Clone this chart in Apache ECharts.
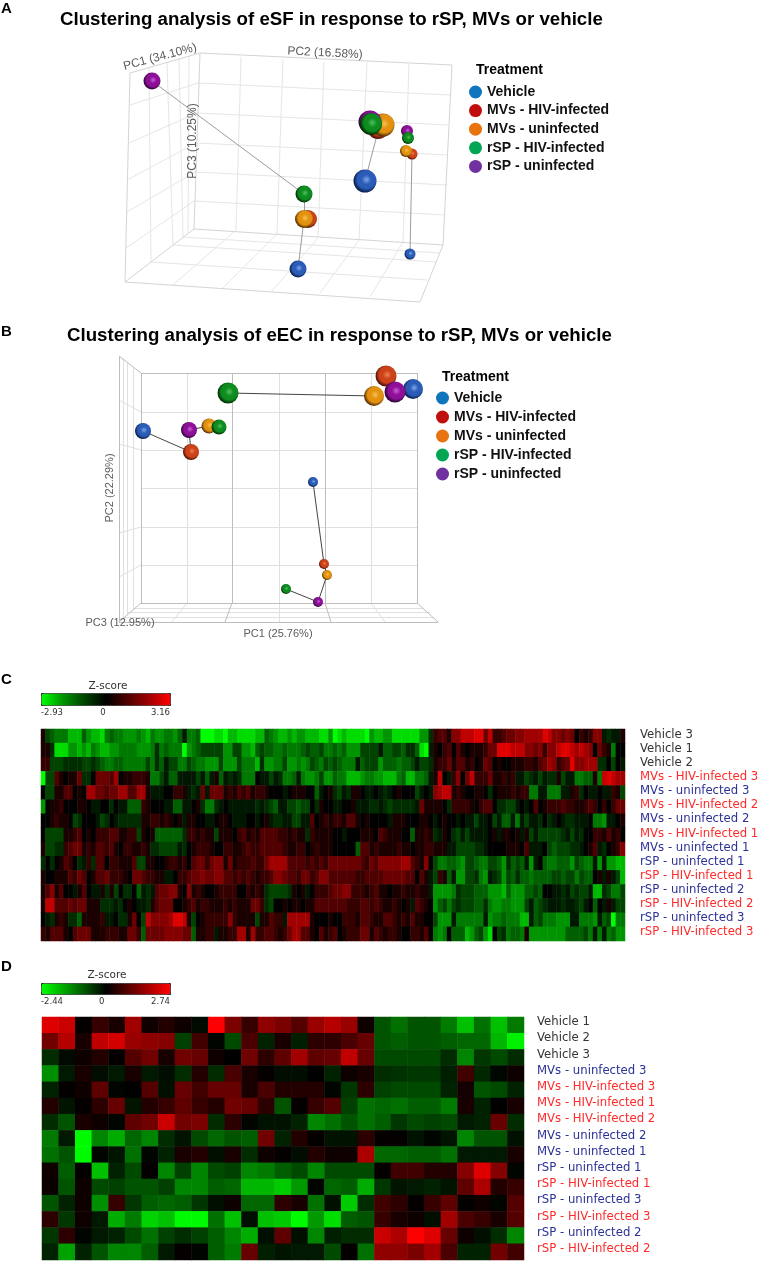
<!DOCTYPE html>
<html>
<head>
<meta charset="utf-8">
<title>Clustering analysis</title>
<script src="https://cdn.jsdelivr.net/npm/echarts@6/dist/echarts.min.js"></script>
<style>
  html, body { margin: 0; padding: 0; background: #fff; }
  #chart { width: 760px; height: 1261px; }
</style>
</head>
<body>
<div id="chart"></div>
<script>
const treatments = ['Vehicle', 'MVs - HIV-infected', 'MVs - uninfected', 'rSP - HIV-infected', 'rSP - uninfected']
const legendColors = ['#0f75bd', '#c00d0d', '#e8730f', '#00a651', '#7030a0']

// PCA points: [x, y, diameter]
const vehicleA = [[298, 269, 17], [365, 181, 23], [410, 254, 11]]
const mvsHivA = [[308, 219, 18], [378, 128, 22], [412, 154, 11]]
const mvsUninfA = [[304, 219, 18], [383, 125, 23], [406, 151, 12]]
const rspUninfA = [[152, 81, 17], [370, 122, 23], [407, 131, 12]]
const rspHivA = [[304, 194, 17], [371, 124, 22], [408, 138, 12]]
const linksA = [[152, 81, 304, 194], [304, 194, 304, 219], [304, 219, 298, 269], [365, 181, 377, 135], [412, 154, 410, 254]]
const wireA = [
  [241, 57, 236, 231], [283, 59, 277, 234], [324, 62, 318, 237], [367, 62, 359, 240], [409, 64, 403, 242],
  [198, 83, 450, 95], [197, 113, 448, 125], [196, 143, 447, 155], [195, 172, 447, 185], [194, 201, 445, 215],
  [149, 68, 151, 262], [167, 63, 173, 245], [179, 59, 183, 237], [189, 56, 188, 233],
  [130, 105, 198, 83], [129, 143, 197, 113], [127, 180, 196, 143], [127, 212, 195, 172], [126, 248, 194, 201],
  [151, 262, 427, 280], [173, 245, 437, 262], [183, 237, 440, 253],
  [277, 234, 223, 288], [359, 240, 320, 293], [235, 231, 173, 285], [318, 238, 272, 291], [403, 242, 370, 297]
]
const wireEdgeA = [
  [200, 53, 452, 65], [452, 65, 443, 245], [443, 245, 194, 229], [194, 229, 200, 53],
  [200, 53, 130, 73], [130, 73, 125, 282], [125, 282, 194, 229],
  [125, 282, 420, 302], [420, 302, 443, 245]
]

const vehicleB = [[143, 431, 16], [413, 389, 20], [313, 482, 10]]
const mvsHivB = [[191, 452, 16], [386, 376, 21], [324, 564, 10]]
const mvsUninfB = [[209, 426, 15], [374, 396, 20], [327, 575, 10]]
const rspUninfB = [[189, 430, 16], [395, 392, 21], [318, 602, 10]]
const rspHivB = [[219, 427, 15], [228, 393, 21], [286, 589, 10]]
const linksB = [
  [228, 393, 374, 396], [143, 431, 191, 452], [191, 452, 189, 430], [189, 430, 209, 426],
  [313, 482, 324, 564], [324, 564, 327, 575], [327, 575, 318, 602], [318, 602, 286, 589]
]
const wireB = [
  [187, 373, 187, 603], [279, 373, 279, 603], [371, 373, 371, 603],
  [141, 412, 417, 412], [141, 450, 417, 450], [141, 488, 417, 488], [141, 527, 417, 527], [141, 565, 417, 565],
  [123, 358, 123, 620], [127, 362, 127, 615], [133, 367, 133, 608],
  [119, 400, 141, 412], [119, 444, 141, 450], [119, 533, 141, 527], [119, 577, 141, 565],
  [187, 603, 172, 622], [279, 603, 279, 622], [371, 603, 385, 622],
  [133, 608, 423, 608], [127, 612, 430, 612], [123, 617, 434, 617]
]
const wireEdgeB = [
  [141, 373, 417, 373], [417, 373, 417, 603], [417, 603, 141, 603], [141, 603, 141, 373],
  [119, 356, 141, 373], [119, 356, 119, 622], [119, 622, 141, 603],
  [119, 622, 438, 622], [438, 622, 417, 603],
  [232, 373, 232, 603], [325, 373, 325, 603], [232, 603, 225, 622], [325, 603, 331, 622]
]

const rowsC = [
  'Vehicle 3', 'Vehicle 1', 'Vehicle 2', 'MVs - HIV-infected 3', 'MVs - uninfected 3', 'MVs - HIV-infected 2',
  'MVs - uninfected 2', 'MVs - HIV-infected 1', 'MVs - uninfected 1', 'rSP - uninfected 1', 'rSP - HIV-infected 1',
  'rSP - uninfected 2', 'rSP - HIV-infected 2', 'rSP - uninfected 3', 'rSP - HIV-infected 3'
]
const rowsD = [
  'Vehicle 1', 'Vehicle 2', 'Vehicle 3', 'MVs - uninfected 3', 'MVs - HIV-infected 3', 'MVs - HIV-infected 1',
  'MVs - HIV-infected 2', 'MVs - uninfected 2', 'MVs - uninfected 1', 'rSP - uninfected 1', 'rSP - HIV-infected 1',
  'rSP - uninfected 3', 'rSP - HIV-infected 3', 'rSP - uninfected 2', 'rSP - HIV-infected 2'
]
const ticksC = [-2.93, 0, 3.16]
const ticksD = [-2.44, 0, 2.74]

// panel C, estimated by eye, one unit is about a third of a z-score
const levelsC = [
  [1,-3,-4,-5,-5,-5,-7,-7,-7,-4,-6,-7,-7,-8,-5,-4,-5,-5,-6,-6,-6,-5,-6,-7,-5,-6,-6,-5,-5,-6,-4,-1,
   -5,-5,-4,-9,-9,-9,-8,-8,-9,-7,-7,-8,-8,-8,-8,-7,-7,-4,-5,-6,-7,-7,-6,-7,-6,-6,-7,-7,-7,-8,-8,-6,
   -9,-8,-7,-8,-8,-8,-8,-9,-6,-7,-7,-6,-6,-8,-8,-8,-8,-8,-8,-6,-6,-2,2,3,3,1,5,5,7,7,7,8,
   8,4,7,2,2,3,4,4,5,5,6,6,6,6,8,7,5,5,4,5,4,0,2,1,2,5,5,-1,-2,-1,-1,1],
  [1,1,-2,-8,-8,-8,-6,-6,-7,-6,-7,-5,-6,-7,-7,-6,-6,-5,-5,-5,-5,-6,-6,-6,-5,-2,-5,-4,-5,-5,-5,-9,
   -6,-5,-4,-3,-3,-3,-3,-3,-6,-6,-3,-3,-6,-6,-7,-4,-3,-4,-4,-5,-5,-4,-5,-5,-5,-4,-3,-4,-4,-3,-5,-5,
   -4,-5,-4,-6,-6,-6,-3,-3,-3,-3,-1,-4,-4,-3,-3,-4,-2,-2,-4,-8,-9,-1,1,0,2,3,0,3,1,0,1,1,
   1,2,4,4,8,8,8,7,7,7,5,5,4,5,2,5,5,7,8,8,7,6,7,6,5,0,4,2,1,-5,0,0],
  [2,2,-3,-3,-3,-2,-2,-2,-2,-3,-3,-2,-3,-4,-5,-5,-4,-4,-5,-5,-5,-5,-5,-3,-5,-2,-4,-1,-3,-3,-5,-5,
   -3,-4,-5,-5,-6,-6,-6,-3,-6,-6,-6,-3,-5,-5,-5,-7,-2,-6,-6,-5,-5,-3,-6,-6,-5,-6,-5,-3,-4,-5,-3,-4,
   -3,-4,-5,-5,-5,-1,-4,-3,-3,-3,-6,-4,-4,-4,-5,-4,-4,-3,-1,-3,-3,-2,1,2,2,4,1,3,3,1,2,0,
   1,4,3,0,1,0,0,1,1,1,2,2,1,3,4,6,5,2,3,4,8,5,5,6,6,6,-2,-2,0,-3,0,-1],
  [-9,-3,-3,3,1,0,1,1,4,-2,-2,0,4,4,4,3,6,0,1,1,2,2,2,1,-5,-5,-3,-1,-4,-4,-1,-1,
   -1,-1,-3,-1,-4,-1,1,-4,-1,-2,-1,-2,-5,-5,-5,0,-1,-1,-3,-1,-2,-5,-5,-4,-1,-5,-6,-6,-5,-3,-6,-6,
   -4,-5,-5,-7,-7,-7,-6,-5,-5,-6,-6,-7,-7,-7,-5,-4,-7,-7,-5,-5,-4,-1,1,7,0,-1,2,5,0,4,7,2,
   2,2,4,1,1,2,1,2,-1,-1,-3,-2,-1,-3,-1,-2,-2,1,-3,-1,-1,-5,-5,-4,-4,1,-5,7,8,7,6,6],
  [0,-3,-3,1,1,3,3,0,1,0,6,6,4,4,3,4,4,6,6,3,3,6,6,1,-1,-1,-1,0,0,2,2,1,
   -1,-2,-1,4,-1,4,4,4,1,2,1,3,2,3,1,2,2,1,0,0,0,-1,0,1,1,1,0,0,-4,-1,0,1,
   -2,-3,-1,-2,1,1,0,-1,-1,0,-1,-2,-1,0,1,0,0,0,-3,-1,0,-1,5,6,7,7,1,2,1,0,0,1,
   1,0,-2,0,1,1,1,2,1,2,2,-5,-5,-1,-1,-5,-5,-5,-1,-1,1,2,-2,0,-1,-1,0,-1,-1,2,1,-3],
  [-6,0,1,1,2,0,0,0,1,1,0,-1,-1,0,0,-2,0,-1,-1,-4,-4,-4,2,1,0,0,0,-1,-1,-4,-4,-1,
   -1,0,1,-2,-5,-5,-2,-1,0,-1,-1,-1,-1,-1,-1,-2,-1,-2,-3,-4,-1,-1,-3,-3,-4,-3,-3,0,-2,1,0,0,
   -1,-1,0,0,1,-1,-1,-1,-2,-2,-1,-2,-3,-2,-2,-2,-2,-2,-1,4,1,1,1,1,0,-2,2,2,2,2,1,0,
   2,3,3,0,-2,-2,-3,-3,-1,0,-1,0,3,0,1,2,2,2,3,2,2,1,1,2,3,2,0,2,0,2,4,4],
  [0,0,1,2,1,1,0,-3,-2,0,0,0,-1,-3,-2,0,-1,-2,-2,-2,-2,-2,1,1,2,2,1,2,1,0,1,-1,
   1,1,0,0,-1,-1,0,1,1,0,-1,-1,-1,0,0,-1,0,1,-1,-2,-2,-1,-1,-3,-3,-1,-1,3,0,1,2,1,
   2,2,1,3,3,1,0,1,0,0,0,0,-1,1,1,1,0,0,0,1,1,0,-1,0,1,0,0,-1,0,-1,-1,-3,
   -1,-1,0,-3,-1,-4,-4,-1,-5,-1,-3,-1,-1,-2,0,-2,-1,0,-1,-2,-2,-1,-1,-1,0,-5,-5,-6,-1,-1,0,1],
  [0,-3,-3,-3,-3,1,1,2,3,0,1,0,2,2,2,3,3,1,1,2,2,-3,1,0,1,-4,-4,-4,-4,-4,-4,-2,
   2,2,1,2,1,1,-3,1,1,1,0,2,3,1,2,1,3,3,3,3,2,2,1,2,1,1,-2,2,1,1,1,1,
   0,0,-1,0,0,0,1,1,1,0,3,2,1,1,1,0,0,-4,1,1,2,1,-2,-1,1,0,-2,-3,-1,-3,-1,-1,
   -1,-1,0,1,-1,1,1,0,1,-1,1,-3,-1,-3,-3,-3,-3,-3,-2,-1,-3,-1,-2,0,0,2,2,1,3,1,2,0],
  [1,-3,-3,-2,-2,2,3,4,4,1,2,1,3,3,2,3,1,0,2,2,1,1,2,1,-2,-2,-3,-3,-3,-3,-1,-2,
   0,1,2,2,2,1,0,0,2,2,1,1,2,3,2,2,3,3,3,3,3,2,1,1,2,2,0,1,2,1,1,1,
   0,0,0,0,0,-4,3,3,1,2,1,1,1,1,2,1,1,0,1,1,2,2,1,1,1,-1,-1,-3,-3,-3,-3,-2,
   -2,-1,0,0,0,0,1,1,1,0,3,-1,-1,-1,0,-3,-4,-3,-3,-3,-2,-2,-1,0,1,3,-1,-2,0,1,2,5],
  [-2,0,-2,0,1,3,2,0,-2,-1,2,-2,3,3,0,2,2,1,1,1,3,-3,-3,1,1,0,0,1,2,2,1,2,
   0,3,4,4,2,4,5,5,1,4,1,2,2,2,3,2,2,4,6,6,6,6,3,3,3,3,2,3,2,3,2,4,
   4,4,4,4,4,4,3,2,4,3,5,5,5,5,5,6,6,3,2,1,5,0,-3,-5,-5,-4,-4,-5,-6,-3,-3,-4,
   -5,-5,-3,-3,-4,-6,-2,-4,-3,-4,-1,-6,-1,0,-4,-5,-5,-4,-4,-4,-6,-3,-4,-5,-5,-1,-6,-1,-6,-6,-7,-7],
  [1,0,0,1,1,1,3,2,4,3,0,1,3,3,4,2,2,2,1,0,4,4,3,2,2,1,1,-1,-1,0,2,2,
   3,4,4,5,4,4,5,5,3,3,2,3,2,3,2,1,2,2,3,5,5,4,3,3,2,4,4,2,3,5,5,3,
   3,3,3,3,3,2,2,3,3,3,3,4,4,4,4,4,3,3,0,3,1,-1,-3,2,1,-4,-1,-6,-6,-3,-3,-2,
   -5,-6,-1,-2,-3,-6,-3,-4,-2,-4,-4,-5,-4,-4,-4,-4,-3,-3,-4,-3,-3,-5,-3,-4,-4,0,1,-1,1,-1,-3,-7],
  [1,3,5,1,3,0,0,-1,1,3,0,-1,-1,1,-2,1,-3,0,-2,-2,0,-4,-1,-2,-1,3,4,4,5,5,1,0,
   5,1,2,1,0,0,1,2,2,2,2,0,0,2,1,2,1,-2,-3,-3,-3,-3,-2,1,0,1,-1,0,2,2,2,3,
   4,4,5,5,2,2,2,1,2,3,1,1,0,1,1,2,1,1,2,1,1,-1,-6,-6,-6,-6,-5,-2,-3,-3,-3,-4,
   -4,-4,-6,-6,-6,-7,-4,-6,-6,-6,-4,-4,-3,-4,0,0,-1,-1,-2,-1,-3,-2,-3,-3,-1,-7,-7,-2,-3,-5,-5,-3],
  [1,7,7,3,3,3,4,3,4,4,1,1,1,-2,-2,-2,-1,-2,0,1,0,-1,-1,-2,1,3,4,4,4,0,0,1,
   2,3,1,2,2,1,1,1,2,1,2,1,1,1,4,4,2,-2,-3,0,0,1,0,1,1,0,1,1,3,3,3,3,
   3,3,3,2,2,2,3,3,2,3,2,1,1,2,1,0,1,-1,3,2,1,0,-6,-4,-3,-5,-3,-2,-3,-3,-3,-4,
   -4,-2,-5,-6,-6,-5,-5,-6,-6,-6,-3,-1,-4,-3,-2,-1,-1,-1,-2,-1,-1,-2,-3,-1,0,-4,0,-1,1,-1,-3,-3],
  [0,-1,-2,1,2,1,-2,-2,-4,1,1,1,1,2,-1,-1,0,-2,-2,1,4,0,-3,7,5,5,5,5,6,8,8,7,
   1,-3,0,1,2,2,2,2,2,5,2,1,1,1,1,-3,1,1,3,2,2,-1,6,6,6,6,6,1,0,0,0,1,
   0,0,2,2,2,1,3,3,2,1,1,3,3,2,1,2,1,3,1,1,0,0,-3,-6,-6,-6,-1,-5,-5,-5,-5,-5,
   -5,-1,-6,-5,-5,-4,-5,-5,-5,-7,-7,-1,-4,-3,-5,-5,-5,-6,-6,-6,-1,-1,-5,-5,-5,-6,-1,-4,-3,-9,-5,-5],
  [2,1,3,3,3,1,0,3,4,4,4,1,1,1,2,2,2,1,1,4,4,2,-4,4,4,4,4,5,5,5,5,4,
   4,-4,1,1,2,2,-1,1,1,2,2,6,6,1,6,2,2,3,3,2,1,2,4,6,6,3,3,1,0,3,1,2,
   3,0,1,2,2,2,4,4,1,3,2,1,2,2,1,0,0,2,2,1,3,0,-5,-6,-5,0,-4,-4,-4,-7,-6,-4,
   -3,-6,-8,0,-3,-2,-5,-4,-4,-5,1,-6,-6,-6,-6,-6,-6,-6,-6,-4,-4,-4,-4,-3,-5,-1,-5,-1,-5,-4,-6,-6]
]

// panel D, z-scores estimated by eye
const zScoresD = [
  [2.4,2.2,0.2,0.7,0.4,1.8,0.3,0.5,0.3,0.05,2.74,1.4,0.7,1.6,1.4,1.0,1.7,2.0,1.7,0.3,-0.7,-1.0,-0.7,-0.7,-1.1,-1.8,-1.0,-1.8,-1.1],
  [1.3,2.0,0.4,2.1,2.3,1.7,1.6,1.5,-0.5,0.8,0.1,-0.6,0.9,-0.2,0.4,-0.15,0.6,0.6,0.9,1.2,-0.7,-0.8,-0.7,-0.7,-0.8,-0.9,-0.9,-1.7,-2.3],
  [-0.3,0.05,0.3,0.5,0.2,1.0,1.3,0.4,1.3,1.2,0.3,0.15,1.3,0.6,1.1,1.8,1.1,1.2,2.1,1.2,-0.6,-0.6,-0.6,-0.6,-0.3,-1.2,-0.4,-0.6,-0.3],
  [-1.3,-0.1,0.4,0.02,-0.1,0.4,-0.1,0.02,-0.3,0.5,-0.3,0.9,0.4,0.2,0.02,0.02,0.15,-0.2,0.3,0.4,-0.3,-0.35,-0.4,-0.4,-0.15,0.8,-0.25,0.08,0.3],
  [-0.2,0.2,0.3,1.1,0.1,0.15,1.0,0.0,1.2,0.8,1.2,1.2,0.4,0.9,0.5,0.5,0.5,0.1,-0.4,0.6,-0.5,-0.6,-0.6,-0.6,-0.2,0.35,-0.7,-0.6,-0.2],
  [0.5,-0.05,0.2,0.6,1.2,-0.05,0.5,0.7,1.1,0.7,0.5,1.3,1.2,0.6,-0.7,0.2,0.7,1.0,-0.5,-1.0,-0.9,-1.0,-0.8,-0.8,-1.1,0.4,-0.2,0.15,0.4],
  [-0.3,-0.7,0.4,0.3,0.1,1.1,1.3,2.2,1.3,1.4,-0.3,0.6,0.1,-0.03,-0.03,-0.2,-1.2,-1.0,-0.7,-1.0,-0.8,-0.4,-0.6,-0.5,-0.6,-0.1,-0.2,1.2,-0.3],
  [-1.1,-0.1,-2.4,-1.2,-1.6,-0.9,-1.2,-0.3,-0.05,-0.6,-0.9,-0.7,-0.8,1.3,-0.2,0.5,0.2,-0.03,-0.03,0.6,0.2,0.2,-0.03,0.1,-0.05,-1.2,-0.7,-0.7,-0.02],
  [-1.0,-0.7,-2.4,0.1,-0.05,-1.0,0.1,-0.2,0.4,0.5,0,0.4,-0.3,0.3,0.2,0.02,0.5,0.3,0.3,1.9,-0.9,-0.9,-0.8,-0.8,-1.0,-0.1,-0.1,-0.1,0.4],
  [0.3,-0.8,0.2,-1.8,-0.2,-0.6,0.2,-1.2,-0.5,-1.2,-0.6,-0.5,-1.2,-1.1,-0.8,-0.6,-1.2,-0.6,-0.6,-0.6,0.2,0.8,0.8,0.5,0.5,1.5,2.4,1.5,0.1],
  [0.25,-0.7,0.3,-0.6,-0.5,-0.7,-0.7,-0.5,-1.2,-1.2,-0.8,-0.9,-1.7,-1.7,-1.9,-1.4,0.1,-0.9,-0.8,-1.6,-0.4,-0.05,-0.1,-0.2,-0.05,1.1,1.9,0.5,0.7],
  [-0.7,-0.2,0.3,-1.3,0.7,-0.4,-0.8,-0.9,-0.8,-0.4,0.0,0.3,-0.9,-0.9,0.6,0.4,-1.0,-0.02,-1.9,-0.3,0.8,0.6,0.2,0.7,1.1,0.2,0.3,0.1,1.0],
  [0.6,-0.4,0.3,-0.1,-1.6,-1.1,-2.0,-1.8,-2.4,-2.4,-1.0,-1.8,0.0,-1.8,-1.9,-2.4,-1.4,-2.1,-0.8,-0.7,0.7,0.4,0.3,0.0,1.8,0.9,0.7,0.4,1.0],
  [-0.4,0.6,0.1,-0.1,-0.2,-0.6,-1.0,-0.5,-0.3,-0.5,-0.8,-1.2,-1.6,0.0,1.1,0.0,-1.2,-0.15,-0.3,-0.3,2.2,1.9,2.74,2.4,1.2,0.3,0,-0.3,-1.2],
  [-0.2,-1.5,-0.2,-0.7,-1.2,-1.2,-0.8,-0.1,0.2,0.1,-0.8,-1.1,1.2,-0.15,-0.05,-0.1,-0.1,-0.6,0.2,-1.0,1.6,1.6,1.4,1.8,0.9,-0.2,-0.2,1.3,0.8]
]

const sphereStops = [
  ['#7fa8ec', '#2a5cb8', '#0c2352'],
  ['#f08050', '#cc431a', '#5a1408'],
  ['#f8c050', '#e39210', '#5e3404'],
  ['#50c060', '#0e8c20', '#033408'],
  ['#c860d8', '#8e1098', '#33053c']
]
const spheresA = [vehicleA, mvsHivA, mvsUninfA, rspUninfA, rspHivA]
const spheresB = [vehicleB, mvsHivB, mvsUninfB, rspUninfB, rspHivB]
const sphereOrder = [0, 1, 2, 4, 3] // same order as the spheres arrays above

const bold = 'Liberation Sans'
const ramp = ['#00ff00', '#000000', '#ff0000']
const rampC = ['#00ff00', '#009400', '#004400', '#000000', '#500000', '#a00000', '#ff0000']

function toCells(rows) {
  const cells = []
  rows.forEach((row, y) => row.forEach((v, x) => cells.push([x, y, v])))
  return cells
}

function sphereSeries(groups, axis) {
  return groups.map((points, i) => {
    const c = sphereStops[sphereOrder[i]]
    return {
      name: treatments[sphereOrder[i]],
      type: 'scatter',
      xAxisIndex: axis,
      yAxisIndex: axis,
      data: points,
      symbolSize: v => v[2],
      z: 4,
      itemStyle: {
        opacity: 1,
        color: {
          type: 'radial', x: 0.56, y: 0.44, r: 0.6,
          colorStops: [
            { offset: 0, color: c[0] }, { offset: 0.35, color: c[1] },
            { offset: 0.64, color: c[1] }, { offset: 0.9, color: c[2] }, { offset: 1, color: c[2] }
          ]
        }
      }
    }
  })
}

function segmentSeries(segments, axis, color, width, z) {
  return {
    type: 'lines',
    coordinateSystem: 'cartesian2d',
    xAxisIndex: axis,
    yAxisIndex: axis,
    silent: true,
    z: z,
    lineStyle: { color: color, width: width, opacity: 1 },
    data: segments.map(s => ({ coords: [[s[0], s[1]], [s[2], s[3]]] }))
  }
}

function rowColor(label) {
  if (label.startsWith('Vehicle')) return '#333333'
  return label.includes('HIV') ? '#ff2a2a' : '#2b3196'
}

function heatSeries(data, axis, name) {
  return {
    name: name,
    type: 'heatmap',
    xAxisIndex: axis,
    yAxisIndex: axis,
    data: data,
    progressive: 0,
    itemStyle: { borderWidth: 0 }
  }
}

function treatmentLegend(left, top, gap) {
  return {
    left: left,
    top: top,
    orient: 'vertical',
    data: treatments.map((t, i) => ({ name: t, icon: 'circle', itemStyle: { color: legendColors[i] } })),
    itemWidth: 13,
    itemHeight: 13,
    itemGap: gap,
    padding: 0,
    selectedMode: false,
    textStyle: { fontFamily: bold, fontWeight: 'bold', fontSize: 14, color: '#111' }
  }
}

function heading(text, left, top, size) {
  return { text: text, left: left, top: top, padding: 0, textStyle: { fontFamily: bold, fontWeight: 'bold', fontSize: size, color: '#000' } }
}

function note(text, x, y, rotation, size) {
  return {
    type: 'text', x: x, y: y, rotation: rotation || 0, z: 5, silent: true,
    style: { text: text, fill: '#5c5c5c', font: size + 'px "Liberation Sans"', textAlign: 'center', textVerticalAlign: 'middle' }
  }
}

function zLabel(x, y) {
  return {
    type: 'text', x: x, y: y, silent: true,
    style: { text: 'Z-score', fill: '#333', font: '10.5px "DejaVu Sans"', textAlign: 'center', textVerticalAlign: 'middle' }
  }
}

const hiddenValue = (min, max, gridIndex, inverse) => ({
  type: 'value', gridIndex: gridIndex, min: min, max: max, inverse: !!inverse, show: false
})

const tickAxis = (gridIndex, ticks) => ({
  type: 'value',
  gridIndex: gridIndex,
  min: ticks[0],
  max: ticks[2],
  axisLine: { show: false },
  axisTick: { show: false },
  splitLine: { show: false },
  axisLabel: {
    customValues: ticks, fontFamily: 'DejaVu Sans', fontSize: 8.5, color: '#333', margin: 3,
    alignMinLabel: 'left', alignMaxLabel: 'right', formatter: v => String(v)
  }
})

const heatX = (gridIndex, n) => ({
  type: 'category', gridIndex: gridIndex, show: false,
  data: Array.from({ length: n }, (_, i) => i)
})

// labels sit a little above the row centre, a short lineHeight with bottom align does that
const heatY = (gridIndex, labels, margin, lift) => ({
  type: 'category', gridIndex: gridIndex, data: labels, inverse: true, position: 'right',
  axisLine: { show: false },
  axisTick: { show: false },
  axisLabel: {
    fontFamily: 'DejaVu Sans', fontSize: 11.7, margin: margin, verticalAlign: 'bottom', lineHeight: lift * 2, interval: 0,
    color: v => rowColor(v)
  }
})

const colorBar = (left, top, height, seriesIndex, min, max, colors) => ({
  type: 'continuous',
  seriesIndex: seriesIndex,
  min: min,
  max: max,
  orient: 'horizontal',
  left: left,
  top: top,
  itemWidth: height,
  itemHeight: 129,
  padding: 0,
  borderWidth: 1,
  borderColor: '#222',
  calculable: false,
  inRange: { color: colors }
})

const series = [
  segmentSeries(wireA, 0, '#e6e6e6', 1, 1),
  segmentSeries(wireEdgeA, 0, '#d4d4d4', 1, 2),
  segmentSeries(linksA, 0, '#9c9c9c', 1, 3),
  ...sphereSeries(spheresA, 0),
  segmentSeries(wireB, 1, '#e0e0e0', 1, 1),
  segmentSeries(wireEdgeB, 1, '#bdbdbd', 1, 2),
  segmentSeries(linksB, 1, '#444444', 1, 3),
  ...sphereSeries(spheresB, 1),
  heatSeries(toCells(levelsC), 2, 'C'),
  heatSeries(toCells(zScoresD), 3, 'D')
]
const heatCIndex = series.length - 2
const heatDIndex = series.length - 1

const plotGrid = g => Object.assign({ outerBoundsMode: 'none' }, g)

const chart = echarts.init(document.getElementById('chart'))
chart.setOption({
  animation: false,
  backgroundColor: '#fff',
  tooltip: { show: false },
  title: [
    heading('A', 1, 1, 15),
    heading('Clustering analysis of eSF in response to rSP, MVs or vehicle', 60, 10, 18.7),
    heading('Treatment', 476, 63, 14),
    heading('B', 1, 324, 15),
    heading('Clustering analysis of eEC in response to rSP, MVs or vehicle', 67, 326, 18.7),
    heading('Treatment', 442, 370, 14),
    heading('C', 1, 672, 15),
    heading('D', 1, 959, 15)
  ],
  legend: [treatmentLegend(469, 85, 4.6), treatmentLegend(436, 391, 5)],
  grid: [
    plotGrid({ left: 100, top: 40, width: 400, height: 280 }),
    plotGrid({ left: 90, top: 350, width: 400, height: 290 }),
    plotGrid({ left: 41, top: 729, width: 584, height: 212 }),
    plotGrid({ left: 42, top: 1017, width: 482, height: 243 }),
    plotGrid({ left: 41, top: 693, width: 129, height: 12 }),
    plotGrid({ left: 41, top: 983, width: 129, height: 11 })
  ],
  xAxis: [
    hiddenValue(100, 500, 0),
    hiddenValue(90, 490, 1),
    heatX(2, levelsC[0].length),
    heatX(3, zScoresD[0].length),
    tickAxis(4, ticksC),
    tickAxis(5, ticksD)
  ],
  yAxis: [
    hiddenValue(40, 320, 0, true),
    hiddenValue(350, 640, 1, true),
    heatY(2, rowsC, 15, 1.5),
    heatY(3, rowsD, 13, 3),
    { type: 'value', gridIndex: 4, show: false },
    { type: 'value', gridIndex: 5, show: false }
  ],
  visualMap: [
    colorBar(41, 693, 12, heatCIndex, -9, 9, rampC),
    colorBar(41, 983, 11, heatDIndex, ticksD[0], ticksD[2], ramp)
  ],
  series: series,
  graphic: { elements: [
    note('PC1 (34.10%)', 160, 57, 0.26, 12),
    note('PC2 (16.58%)', 325, 53, -0.05, 12),
    note('PC3 (10.25%)', 193, 141, Math.PI / 2, 12),
    note('PC2 (22.29%)', 110, 488, Math.PI / 2, 11),
    note('PC3 (12.95%)', 120, 623, 0, 11),
    note('PC1 (25.76%)', 278, 634, 0, 11),
    zLabel(108, 686),
    zLabel(107, 975)
  ] }
})
</script>
</body>
</html>
